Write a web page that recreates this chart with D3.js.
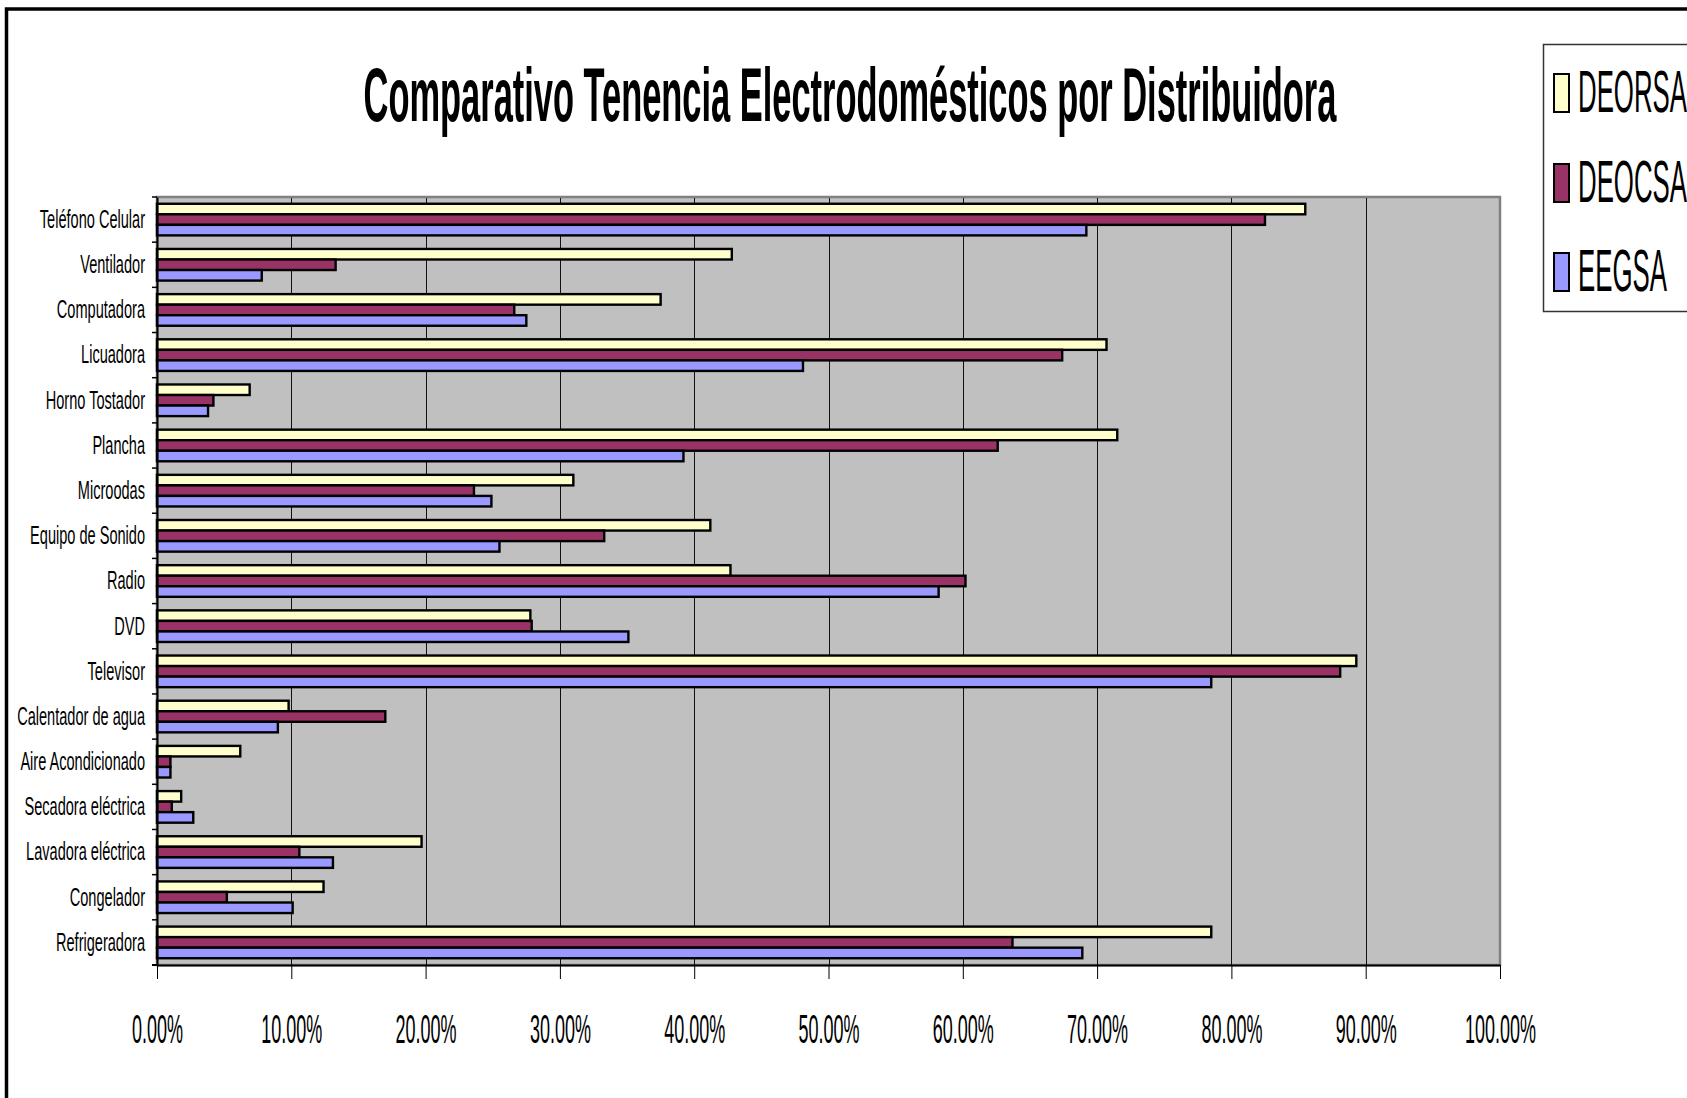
<!DOCTYPE html>
<html>
<head>
<meta charset="utf-8">
<script src="https://cdn.jsdelivr.net/npm/d3@7"></script>
<style>
  body { margin: 0; background: #fff; overflow: hidden; }
  text { font-family: "Liberation Sans", Arial, sans-serif; }
</style>
</head>
<body>
<div id="chart"></div>
<script>
// DATA (top to bottom, as drawn)
const categories = [
    "Teléfono Celular", "Ventilador", "Computadora", "Licuadora", "Horno Tostador",
    "Plancha", "Microodas", "Equipo de Sonido", "Radio", "DVD", "Televisor",
    "Calentador de agua", "Aire Acondicionado", "Secadora eléctrica",
    "Lavadora eléctrica", "Congelador", "Refrigeradora"
];
const deorsa = [0.855, 0.428, 0.375, 0.707, 0.069, 0.715, 0.310, 0.412, 0.427, 0.278, 0.893, 0.098, 0.062, 0.018, 0.197, 0.124, 0.785];
const deocsa = [0.825, 0.133, 0.266, 0.674, 0.042, 0.626, 0.236, 0.333, 0.602, 0.279, 0.881, 0.170, 0.010, 0.011, 0.106, 0.052, 0.637];
const eegsa  = [0.692, 0.078, 0.275, 0.481, 0.038, 0.392, 0.249, 0.255, 0.582, 0.351, 0.785, 0.090, 0.010, 0.027, 0.131, 0.101, 0.689];
const seriesNames = ["DEORSA", "DEOCSA", "EEGSA"];
const seriesColors = ["#FFFFCC", "#993366", "#9999FF"];
const tickValues = [0, 0.1, 0.2, 0.3, 0.4, 0.5, 0.6, 0.7, 0.8, 0.9, 1.0];
const title = "Comparativo Tenencia Electrodomésticos por Distribuidora";

// dimensions
const W = 1687, H = 1098;
const plot = { left: 157, right: 1500, top: 197, bottom: 965 };

const svg = d3.select('#chart').append('svg')
    .attr('width', W)
    .attr('height', H);

// outer chart frame (runs off the picture right and bottom)
svg.append('rect')
    .attr('x', 6.5).attr('y', 9)
    .attr('width', 2000).attr('height', 2000)
    .attr('fill', 'none')
    .attr('stroke', '#000')
    .attr('stroke-width', 3.5);

// scales
const xScale = d3.scaleLinear().domain([0, 1]).range([plot.left, plot.right]);
const yScale = d3.scaleBand().domain(categories).range([plot.top, plot.bottom]).padding(0);
const gap = yScale.step() * 0.15;
const yInner = d3.scaleBand().domain(seriesNames).range([gap, yScale.step() - gap]).padding(0);

// plot area
svg.append('rect')
    .attr('x', plot.left).attr('y', plot.top)
    .attr('width', plot.right - plot.left).attr('height', plot.bottom - plot.top)
    .attr('fill', '#C0C0C0')
    .attr('stroke', '#808080')
    .attr('stroke-width', 2.5);

// gridlines
svg.append('g').selectAll('line')
    .data(tickValues.slice(1, -1))
    .enter().append('line')
    .attr('x1', d => Math.round(xScale(d)) + 0.5).attr('x2', d => Math.round(xScale(d)) + 0.5)
    .attr('y1', plot.top + 1).attr('y2', plot.bottom)
    .attr('stroke', '#111')
    .attr('stroke-width', 1);

// bars
const rows = categories.map((c, i) => ({ cat: c, vals: [deorsa[i], deocsa[i], eegsa[i]] }));
const groups = svg.append('g').selectAll('g')
    .data(rows)
    .enter().append('g')
    .attr('transform', d => `translate(0, ${yScale(d.cat)})`);

groups.selectAll('rect')
    .data(d => d.vals.map((v, j) => ({ name: seriesNames[j], v: v, color: seriesColors[j] })))
    .enter().append('rect')
    .attr('x', xScale(0))
    .attr('y', d => yInner(d.name))
    .attr('width', d => xScale(d.v) - xScale(0))
    .attr('height', yInner.bandwidth())
    .attr('fill', d => d.color)
    .attr('stroke', '#000')
    .attr('stroke-width', 2.4);

// x axis
const xAxis = d3.axisBottom(xScale)
    .tickValues(tickValues)
    .tickFormat(d3.format('.2%'))
    .tickSize(14)
    .tickSizeOuter(0)
    .tickPadding(36);

const xg = svg.append('g')
    .attr('transform', `translate(0, ${plot.bottom})`)
    .call(xAxis);
xg.select('.domain').attr('stroke', '#000').attr('stroke-width', 2);
xg.selectAll('.tick line').attr('stroke', '#000');
xg.selectAll('.tick text')
    .attr('font-size', 40)
    .attr('font-family', '"Liberation Sans", Arial, sans-serif')
    .attr('fill', '#000')
    .attr('transform', 'scale(0.45,1)');
xg.append('line')
    .attr('x1', plot.left - 5).attr('x2', plot.left)
    .attr('stroke', '#000').attr('stroke-width', 2);

// y axis (category labels)
const labelSqueeze = 0.56;
const yAxis = d3.axisLeft(yScale).tickSize(0).tickSizeOuter(0).tickPadding(0);
const yg = svg.append('g')
    .attr('transform', `translate(${plot.left}, 0)`)
    .call(yAxis);
yg.select('.domain').attr('stroke', '#000').attr('stroke-width', 2);
yg.selectAll('.tick text')
    .attr('font-size', 26)
    .attr('font-family', '"Liberation Sans", Arial, sans-serif')
    .attr('fill', '#000')
    .attr('x', -12 / labelSqueeze)
    .attr('transform', `scale(${labelSqueeze},1)`);

// category tick marks at band boundaries
const bounds = categories.map(c => yScale(c)).concat([plot.bottom]);
yg.append('g').selectAll('line')
    .data(bounds)
    .enter().append('line')
    .attr('x1', -5).attr('x2', 0)
    .attr('y1', d => d).attr('y2', d => d)
    .attr('stroke', '#000')
    .attr('stroke-width', 1.5);

// title
const tg = svg.append('g').attr('transform', 'translate(850, 121)');
const tText = tg.append('text')
    .attr('text-anchor', 'middle')
    .attr('font-size', 76)
    .attr('font-weight', 'bold')
    .text(title);
const tw = tText.node().getComputedTextLength();
tText.attr('transform', `scale(${973 / tw},1)`);

// legend
const legend = svg.append('g');
legend.append('rect')
    .attr('x', 1543.5).attr('y', 44.5)
    .attr('width', 300).attr('height', 267)
    .attr('fill', '#fff')
    .attr('stroke', '#333')
    .attr('stroke-width', 1.5);

const legendRows = [73, 163, 252];
const items = legend.selectAll('g.item')
    .data(seriesNames)
    .enter().append('g')
    .attr('class', 'item')
    .attr('transform', (d, i) => `translate(1553, ${legendRows[i]})`);

items.append('rect')
    .attr('x', 1).attr('y', 1)
    .attr('width', 15).attr('height', 38)
    .attr('fill', (d, i) => seriesColors[i])
    .attr('stroke', '#000')
    .attr('stroke-width', 2);

items.append('text')
    .attr('font-size', 60)
    .attr('transform', 'translate(25, 39) scale(0.43,1)')
    .text(d => d);
</script>
</body>
</html>
